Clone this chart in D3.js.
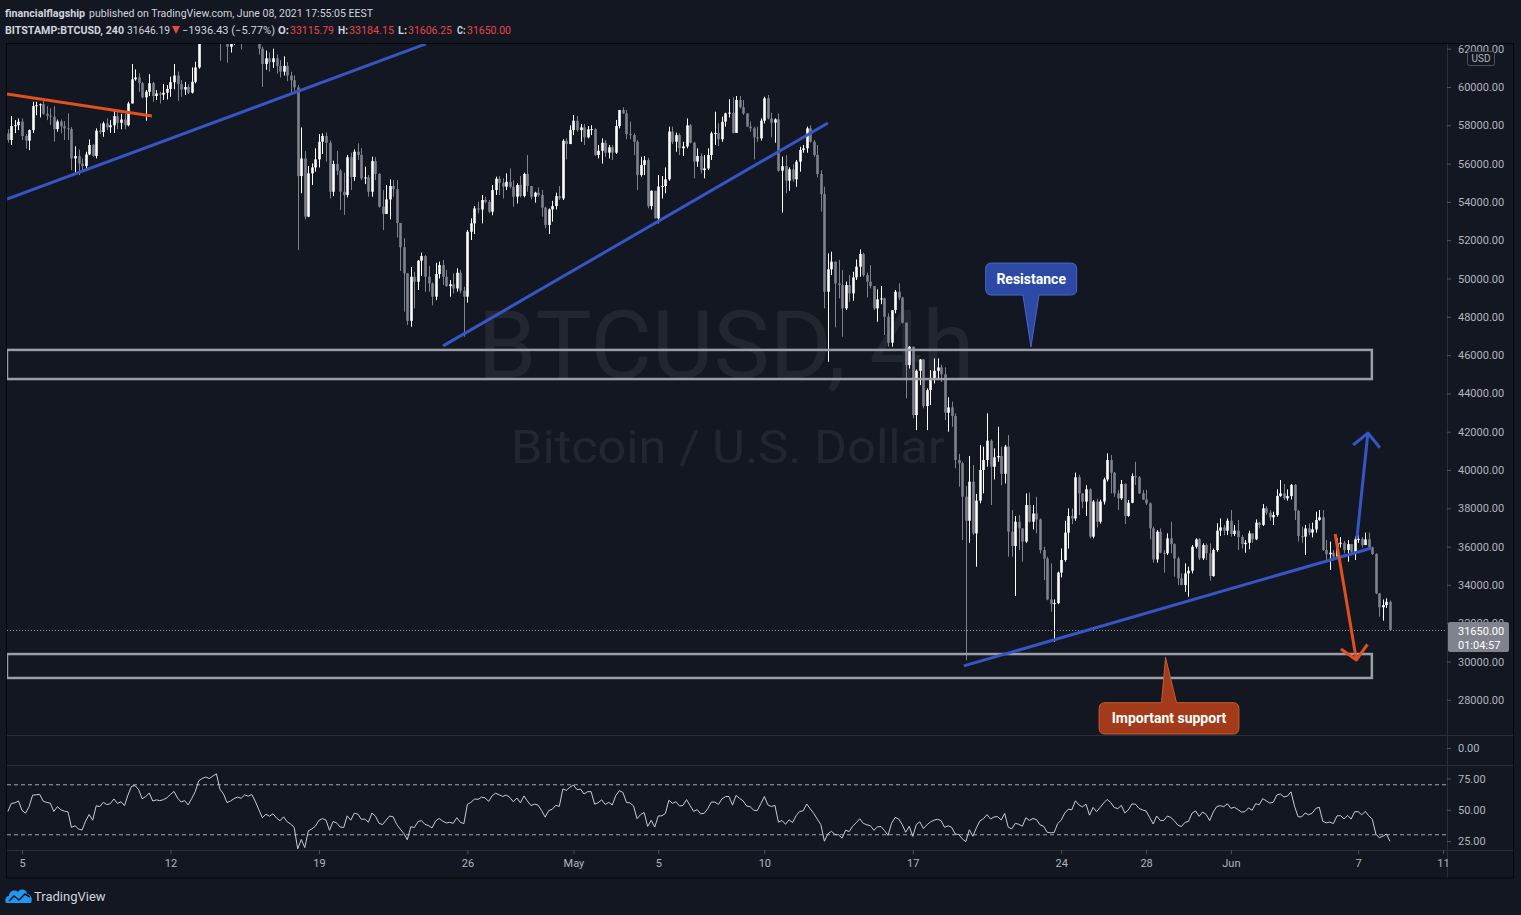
<!DOCTYPE html>
<html><head><meta charset="utf-8">
<script src="https://cdn.jsdelivr.net/npm/d3@7"></script>
<style>
html,body{margin:0;padding:0;background:#131722;overflow:hidden;}
svg{display:block;font-family:Roboto,"Open Sans",sans-serif;}
</style></head><body>
<svg id="c" width="1521" height="915"></svg>
<script>
// ---------------- DATA (prices in thousands of USD, 4h candles from 2021-04-04 08:00 UTC) ----------------
const firstCandle = "2021-04-04T08:00:00Z";
const firstOpen = 57.58;
const closes = [
57.23,57.96,58.0,58.19,57.44,57.2,57.75,59.0,59.05,59.1,
58.6,58.5,58.45,57.8,58.2,57.95,57.84,57.8,56.27,56.39,
56.0,55.87,56.48,56.97,56.4,57.72,57.65,58.1,57.9,58.0,
58.48,58.13,58.3,58.0,59.14,60.4,60.5,60.2,59.46,59.75,
60.2,59.53,59.66,59.6,59.7,59.9,60.25,60.6,60.15,59.87,
60.0,59.7,60.27,61.02,62.7,63.2,63.5,63.4,63.9,64.4,
63.3,62.9,62.1,62.3,62.6,62.8,62.7,63.1,63.0,63.2,
62.7,62.0,61.2,61.5,61.3,61.5,61.1,60.8,61.1,60.6,
60.35,59.98,55.35,56.27,53.23,55.49,55.8,56.22,57.14,57.44,
57.09,54.53,55.98,55.63,54.53,54.36,56.33,55.3,56.62,56.45,
55.23,55.28,54.53,56.13,55.46,53.75,53.37,54.13,54.83,54.66,
52.9,51.63,50.27,47.79,50.09,49.83,50.93,51.17,50.09,49.74,
49.05,50.23,50.7,50.09,49.6,49.7,49.48,50.3,49.36,49.05,
52.44,52.88,53.66,53.6,54.1,54.0,53.49,54.62,55.21,55.0,
54.8,55.05,54.79,54.27,54.88,54.31,55.46,54.83,54.27,54.48,
54.36,53.7,52.79,53.61,53.78,54.3,54.18,57.19,57.02,57.75,
58.24,57.75,57.89,57.37,57.79,57.8,56.45,56.67,57.09,56.57,
56.85,56.57,57.96,58.8,58.62,57.54,57.49,57.14,55.4,55.93,
56.18,53.78,54.58,53.14,54.8,54.83,55.18,57.67,57.14,57.49,
56.8,56.9,58.0,57.09,56.1,56.4,55.66,55.75,56.45,57.58,
57.6,57.27,58.19,58.62,58.66,57.6,59.32,58.94,58.62,57.93,
57.84,57.37,57.32,58.24,59.41,58.36,58.14,58.31,55.63,55.87,
55.11,55.7,55.18,56.1,56.71,56.8,57.84,57.14,56.45,55.46,
54.41,49.31,50.48,50.88,49.74,49.66,48.44,49.66,49.22,50.06,
50.62,51.28,50.18,49.83,49.6,48.44,48.91,48.96,48.0,46.65,
48.35,49.31,49.0,47.69,45.48,46.44,42.87,45.18,45.77,43.34,
44.17,44.78,45.18,45.36,45.0,42.99,43.27,42.82,40.52,40.35,
38.61,37.35,39.39,36.69,38.4,40.0,40.52,41.53,40.17,40.66,
40.73,39.8,41.22,36.78,36.03,37.3,36.95,36.26,38.17,37.3,
37.73,37.42,35.82,35.38,33.24,33.0,33.05,34.64,35.3,36.73,
37.6,37.47,39.62,38.78,38.35,38.99,36.52,38.35,37.3,38.35,
39.51,40.52,39.86,38.78,38.52,39.27,37.6,38.29,39.68,39.62,
38.78,38.46,38.26,36.95,35.33,36.78,35.68,35.65,36.43,36.13,
35.38,34.34,33.99,34.6,34.74,35.99,36.38,35.39,36.08,35.65,
34.46,35.82,36.83,37.0,36.83,37.35,36.66,36.83,36.5,36.13,
36.2,36.69,36.38,37.25,37.13,38.0,37.77,37.53,37.65,38.64,
38.78,38.52,38.64,39.22,37.87,36.55,36.52,36.95,36.73,36.9,
37.39,37.53,35.82,35.6,35.68,35.47,36.17,36.2,35.82,36.13,
35.73,36.38,36.4,36.08,36.38,35.96,35.61,33.56,32.83,32.95,
33.11579,31.65];
const highs = [
57.79,58.48,58.27,58.36,58.36,57.55,57.78,59.23,59.23,59.14,
59.4,59.0,58.88,59.0,58.3,58.3,58.22,58.62,57.9,56.9,
56.74,56.27,56.62,57.26,57.02,57.84,58.1,58.19,58.36,58.27,
58.83,58.71,58.6,58.6,59.23,61.2,60.92,60.71,60.27,59.84,
60.67,60.27,59.84,59.75,60.15,60.1,60.54,61.2,60.8,60.36,
60.27,60.15,61.02,61.32,62.95,63.6,63.8,63.7,64.2,64.85,
64.6,63.6,63.1,62.6,63.0,63.2,63.2,63.4,63.4,63.6,
63.4,62.8,62.1,61.9,61.8,62.0,61.7,61.4,61.6,61.3,
60.8,60.6,60.1,57.89,56.65,55.87,56.01,56.8,57.54,57.58,
57.62,57.2,56.15,56.67,55.7,55.52,56.45,56.57,56.74,57.06,
56.8,55.84,55.4,56.36,56.33,55.5,54.62,54.88,55.18,55.14,
55.14,52.9,52.1,50.27,50.6,50.35,50.97,51.35,51.22,50.65,
49.8,50.82,50.88,50.97,50.44,49.92,50.27,50.53,50.44,49.57,
52.53,53.14,53.78,54.01,54.36,54.27,54.1,54.88,55.32,55.35,
55.23,55.49,55.75,55.14,54.97,55.35,55.53,56.45,54.83,54.53,
54.76,54.62,53.75,53.66,54.06,54.48,54.83,57.27,57.32,58.0,
58.54,58.48,58.07,58.07,57.96,58.0,57.84,56.97,57.32,57.23,
56.97,56.97,58.28,58.8,58.94,58.8,58.19,57.58,57.23,56.36,
56.4,56.3,54.6,54.58,55.4,55.35,55.8,57.93,57.93,57.62,
57.58,57.14,58.36,58.07,57.14,56.8,56.53,56.45,56.8,57.67,
58.71,58.1,58.45,58.66,59.36,59.46,59.53,59.53,59.32,58.62,
58.19,57.93,57.93,58.36,59.49,59.58,58.66,58.36,58.62,56.36,
56.45,55.8,55.97,56.19,56.88,56.97,57.93,58.0,57.23,56.97,
55.66,54.79,51.31,51.4,50.88,50.97,50.44,49.84,50.18,50.35,
50.99,51.52,51.35,50.31,50.7,49.6,49.43,49.61,49.0,48.18,
48.35,49.4,49.75,49.05,47.7,46.47,46.44,45.25,45.8,45.8,
44.26,45.21,45.83,45.83,45.5,45.36,43.8,43.57,42.96,40.84,
40.43,39.16,40.73,40.26,38.75,41.3,41.22,42.96,41.6,41.13,
42.26,41.22,41.31,41.83,37.91,37.6,37.65,36.95,38.78,38.82,
38.17,38.6,37.47,35.99,35.47,35.12,33.24,34.69,35.9,37.35,
38.0,37.99,39.86,39.74,38.78,39.21,39.04,38.43,38.5,38.45,
39.6,40.87,40.78,39.9,38.96,39.48,39.3,38.43,39.82,40.43,
39.68,38.96,38.96,38.3,37.04,36.86,36.95,35.82,36.69,37.3,
36.17,35.47,34.6,35.12,34.95,36.08,36.43,36.45,36.17,36.17,
36.17,35.9,37.22,37.47,37.13,37.47,37.91,37.13,37.39,36.6,
36.34,36.83,36.69,37.42,37.3,38.22,38.12,37.9,37.82,38.99,
39.48,39.27,38.99,39.27,39.27,37.91,37.04,37.13,37.21,37.25,
37.82,37.91,37.91,36.34,36.26,35.82,36.43,36.5,36.3,36.34,
36.13,36.52,36.6,36.5,36.73,36.73,35.99,35.65,33.56,33.24,
33.3,33.18415];
const lows = [
57.09,56.97,57.6,57.75,57.23,56.78,56.7,57.6,58.53,58.41,
58.55,58.27,58.01,57.15,57.66,57.58,57.23,57.23,55.66,55.49,
55.4,55.62,55.62,56.44,56.36,56.27,57.54,57.4,57.75,57.6,
57.6,57.79,57.79,57.79,57.95,59.14,60.33,59.75,59.4,58.24,
59.53,59.23,59.32,59.14,59.32,59.35,59.49,59.88,59.28,59.49,
59.58,59.63,59.66,60.19,60.95,62.3,63.0,62.9,63.2,63.8,
61.37,62.5,61.27,61.8,62.2,62.4,61.96,62.5,62.6,62.8,
62.5,61.7,60.0,60.9,60.8,61.0,60.7,60.5,60.6,60.3,
59.58,59.8,51.49,54.45,53.09,53.2,54.88,55.58,55.8,56.5,
56.1,54.18,54.3,55.4,53.57,53.32,54.24,54.62,55.1,56.19,
55.14,54.93,54.27,54.27,55.14,53.7,52.53,53.36,53.09,54.27,
52.14,50.4,48.27,47.57,47.48,48.44,49.4,50.13,49.31,49.31,
48.6,48.87,50.0,49.66,49.57,49.05,49.22,49.31,49.22,46.96,
48.74,52.01,52.32,53.4,52.88,53.92,53.4,53.3,54.36,54.36,
54.18,54.62,54.71,53.75,53.92,54.24,54.24,54.53,54.14,53.96,
54.27,53.23,52.62,52.32,52.97,53.6,54.1,54.1,56.22,57.02,
57.49,57.67,57.14,56.97,57.32,57.49,56.4,56.27,56.0,56.36,
56.27,56.19,56.5,57.84,58.59,57.27,57.27,56.45,54.62,55.32,
55.4,53.66,53.6,53.14,52.88,54.18,54.45,55.1,57.02,56.62,
56.45,56.4,56.8,57.06,55.23,55.84,55.49,55.23,55.66,56.19,
56.97,56.92,57.14,57.93,58.41,57.58,57.6,58.88,58.54,57.93,
57.67,56.22,57.14,57.2,58.1,58.31,57.37,57.09,55.58,53.44,
54.45,54.58,55.05,54.79,55.58,56.57,56.57,57.09,56.36,55.28,
53.49,48.44,45.65,50.18,47.45,48.96,46.96,48.35,48.79,48.83,
49.92,50.09,50.09,49.01,49.48,48.35,47.74,48.66,47.05,46.44,
46.44,48.18,48.87,47.65,43.74,45.3,42.7,42.08,44.43,43.22,
42.08,43.39,44.52,44.7,44.6,42.6,42.0,42.26,40.09,39.13,
36.34,30.07,36.2,36.6,34.95,38.26,38.78,40.17,38.17,39.51,
40.43,39.2,39.3,35.47,35.47,33.42,35.82,35.21,36.2,37.25,
36.9,36.69,35.65,34.25,33.2,32.6,31.03,32.99,34.39,35.21,
35.9,37.18,37.35,37.65,38.0,37.6,36.43,36.43,37.0,37.2,
38.2,39.4,38.78,38.6,37.91,38.43,37.18,37.56,38.26,39.21,
38.75,38.43,38.17,36.38,35.16,35.16,35.65,34.64,35.56,35.65,
34.43,33.99,33.99,33.64,33.38,34.6,35.9,35.3,35.3,35.3,
34.22,34.43,35.73,36.55,36.6,36.6,36.52,36.55,35.82,35.9,
35.68,35.86,36.2,36.34,36.95,37.07,37.65,37.35,37.13,37.56,
38.6,38.43,38.4,38.46,37.39,36.26,36.2,35.56,36.6,36.48,
36.73,37.35,35.78,35.3,34.78,35.3,35.39,35.95,35.65,35.21,
35.56,35.3,36.2,35.95,36.08,35.96,35.56,33.52,32.34,32.13,
32.8,31.60625];

const priceTicks = [28,30,32,34,36,38,40,42,44,46,48,50,52,54,56,58,60,62];
const rsiTicks = [25,50,75];
const rsiBands = [70,30];
const timeTicks = ["2021-04-05","2021-04-12","2021-04-19","2021-04-26","2021-05-01","2021-05-05","2021-05-10","2021-05-17","2021-05-24","2021-05-28","2021-06-01","2021-06-07","2021-06-11"];
const timeLabels = ["5","12","19","26","May","5","10","17","24","28","Jun","7","11"];

// drawings (time, price in thousands)
const zoneSpan = ["2021-04-04T07:00Z","2021-06-07T15:30Z"];
const resistanceZone = [44.75, 46.27];
const supportZone = [29.14, 30.39];
const orangeTrend = [["2021-04-04T07:00Z",59.63],["2021-04-11T03:00Z",58.49]];
const blueTrends = [
  [["2021-04-04T07:00Z",54.15],["2021-04-24T01:00Z",62.25]],
  [["2021-04-24T20:30Z",46.48],["2021-05-13T00:00Z",58.12]],
  [["2021-05-19T09:45Z",29.77],["2021-06-07T15:30Z",35.93]]
];
const blueArrow = [["2021-06-06T22:30Z",36.40],["2021-06-07T11:00Z",41.93]];
const orangeArrow = [["2021-06-05T22:00Z",36.66],["2021-06-06T22:00Z",30.08]];
const resistanceCallout = {text:"Resistance", at:["2021-05-22T13:45Z",46.42]};
const supportCallout = {text:"Important support", at:["2021-05-28T22:00Z",30.22]};

const publisher = "financialflagship";
const publishedText = "published on TradingView.com, June 08, 2021 17:55:05 EEST";
const symbolText = "BITSTAMP:BTCUSD, 240";
const lastPrice = "31646.19", lastChange = "\u22121936.43 (\u22125.77%)";
const countdown = "01:04:57";

// ---------------- DRAW ----------------
const svg = d3.select("#c");
const BG = "#131722", UP = "#ffffff", DOWN = "#7f828d", AXT = "#b2b5be", SEP = "#2a2e39";
const BLUE = "#3556c4", ORANGE = "#e2501e", ZONE = "#9b9ea6";
const P = {l:7, r:1447, t:44, b:735};
const RP = {t:765, b:850};

const x = d3.scaleUtc().domain([new Date(Date.UTC(2021,3,5)), new Date(Date.UTC(2021,5,11))]).range([22,1443]);
const y = d3.scaleLinear().domain([28,62]).range([699.8,48.7]);
const yr = d3.scaleLinear().domain([25,75]).range([841,778.5]);

const t0 = new Date(firstCandle).getTime();
const data = closes.map((c,i)=>({t:new Date(t0+i*4*3600e3), o: i?closes[i-1]:firstOpen, h:highs[i], l:lows[i], c}));
const last = data[data.length-1];

svg.append("rect").attr("width",1521).attr("height",915).attr("fill",BG);

const defs = svg.append("defs");
defs.append("clipPath").attr("id","main").append("rect").attr("x",P.l).attr("y",P.t).attr("width",P.r-P.l).attr("height",P.b-P.t);
defs.append("clipPath").attr("id","rsi").append("rect").attr("x",P.l).attr("y",RP.t).attr("width",P.r-P.l).attr("height",RP.b-RP.t);
defs.append("clipPath").attr("id","pax").append("rect").attr("x",P.r).attr("y",P.t).attr("width",70).attr("height",P.b-P.t);

// watermark
const wm = svg.append("g").attr("clip-path","url(#main)").attr("fill","rgba(255,255,255,0.065)").attr("text-anchor","middle");
wm.append("text").attr("x",726).attr("y",378).attr("font-size",94).attr("textLength",497).attr("lengthAdjust","spacingAndGlyphs").text("BTCUSD, 4h");
wm.append("text").attr("x",728).attr("y",463).attr("font-size",47).attr("textLength",434).attr("lengthAdjust","spacingAndGlyphs").text("Bitcoin / U.S. Dollar");

// candles
const cg = svg.append("g").attr("clip-path","url(#main)");
const cs = cg.selectAll("g.c").data(data).join("g");
cs.append("line")
  .attr("x1",d=>Math.round(x(d.t))+0.5).attr("x2",d=>Math.round(x(d.t))+0.5)
  .attr("y1",d=>y(Math.max(d.h,d.o,d.c))).attr("y2",d=>y(Math.min(d.l,d.o,d.c)))
  .attr("stroke",d=>d.c>=d.o?UP:DOWN).attr("stroke-width",1);
cs.append("rect")
  .attr("x",d=>Math.round(x(d.t))-0.8).attr("width",2.6)
  .attr("y",d=>y(Math.max(d.o,d.c)))
  .attr("height",d=>Math.max(1,Math.abs(y(d.o)-y(d.c))))
  .attr("fill",d=>d.c>=d.o?UP:DOWN);

// price line
svg.append("line").attr("x1",P.l).attr("x2",P.r).attr("y1",Math.round(y(last.c))+0.5).attr("y2",Math.round(y(last.c))+0.5)
  .attr("stroke","#9598a1").attr("stroke-dasharray","1,2");

// drawings
const dg = svg.append("g").attr("clip-path","url(#main)");
const pt = p => [x(new Date(p[0])), y(p[1])];
[resistanceZone, supportZone].forEach(z=>{
  const x0 = x(new Date(zoneSpan[0])), x1 = x(new Date(zoneSpan[1]));
  dg.append("rect").attr("x",x0).attr("width",x1-x0).attr("y",y(z[1])).attr("height",y(z[0])-y(z[1]))
    .attr("fill","none").attr("stroke",ZONE).attr("stroke-width",2.5);
});
const line = d3.line();
dg.append("path").attr("d",line(orangeTrend.map(pt))).attr("stroke",ORANGE).attr("stroke-width",3).attr("fill","none");
blueTrends.forEach(tl=>dg.append("path").attr("d",line(tl.map(pt))).attr("stroke",BLUE).attr("stroke-width",3).attr("fill","none"));
function arrow(a,color){
  const [s,e] = a.map(pt);
  const ang = Math.atan2(s[1]-e[1], s[0]-e[0]);
  const L = 19, sp = Math.PI/4;
  const b1 = [e[0]+L*Math.cos(ang+sp), e[1]+L*Math.sin(ang+sp)];
  const b2 = [e[0]+L*Math.cos(ang-sp), e[1]+L*Math.sin(ang-sp)];
  dg.append("path").attr("d",line([s,e])).attr("stroke",color).attr("stroke-width",3).attr("fill","none");
  dg.append("path").attr("d",line([b1,e,b2])).attr("stroke",color).attr("stroke-width",3).attr("fill","none").attr("stroke-linejoin","round");
}
arrow(blueArrow, BLUE);
arrow(orangeArrow, ORANGE);

function callout(c, box, base, fill, stroke){
  const [ax, ay] = pt(c.at);
  const x0=ax+box[0], x1=ax+box[1], y0=ay+box[2], y1=ay+box[3], r=6;
  const below = ay > y1;
  let d;
  if (below) {
    d = `M${x0+r},${y0} H${x1-r} Q${x1},${y0} ${x1},${y0+r} V${y1-r} Q${x1},${y1} ${x1-r},${y1} H${ax+base[1]} L${ax},${ay} L${ax+base[0]},${y1} H${x0+r} Q${x0},${y1} ${x0},${y1-r} V${y0+r} Q${x0},${y0} ${x0+r},${y0} Z`;
  } else {
    d = `M${x0+r},${y0} H${ax+base[0]} L${ax},${ay} L${ax+base[1]},${y0} H${x1-r} Q${x1},${y0} ${x1},${y0+r} V${y1-r} Q${x1},${y1} ${x1-r},${y1} H${x0+r} Q${x0},${y1} ${x0},${y1-r} V${y0+r} Q${x0},${y0} ${x0+r},${y0} Z`;
  }
  dg.append("path").attr("d",d).attr("fill",fill).attr("stroke",stroke).attr("stroke-width",1);
  dg.append("text").attr("x",(x0+x1)/2).attr("y",(y0+y1)/2+5).attr("text-anchor","middle")
    .attr("fill","#ffffff").attr("font-weight",700).attr("font-size",14).text(c.text);
}
callout(resistanceCallout, [-45.3,45.7,-84,-52], [-8,8], "#2c4aa5", "#4966c4");
callout(supportCallout, [-66.4,73.4,45.4,76.7], [-4,11], "#a33a1a", "#c65c36");

// RSI (14) computed from closes, Wilder smoothing seeded with SMA of first 14 changes
const N = 14;
const diffs = data.map(d=>d.c-d.o);
let ag = d3.mean(diffs.slice(0,N),d=>Math.max(d,0)), al = d3.mean(diffs.slice(0,N),d=>Math.max(-d,0));
const rsi = diffs.map((d,i)=>{ ag=(ag*(N-1)+Math.max(d,0))/N; al=(al*(N-1)+Math.max(-d,0))/N; return {t:data[i].t, v: al===0?100:100-100/(1+ag/al)}; });
const rg = svg.append("g").attr("clip-path","url(#rsi)");
rsiBands.forEach(b=>rg.append("line").attr("x1",P.l).attr("x2",P.r).attr("y1",yr(b)).attr("y2",yr(b))
  .attr("stroke","#a3a6af").attr("stroke-dasharray","4,3").attr("stroke-width",1));
rg.append("path").datum(rsi).attr("d",d3.line().x(d=>x(d.t)).y(d=>yr(d.v)))
  .attr("fill","none").attr("stroke","#c9cbd3").attr("stroke-width",1);

// separators & frame
const sep = svg.append("g").attr("stroke",SEP).attr("stroke-width",1);
sep.append("line").attr("x1",P.l).attr("x2",1514).attr("y1",735.5).attr("y2",735.5);
sep.append("line").attr("x1",P.l).attr("x2",1514).attr("y1",765.5).attr("y2",765.5);
sep.append("line").attr("x1",P.l).attr("x2",1514).attr("y1",850.5).attr("y2",850.5);
sep.append("line").attr("x1",P.r+0.5).attr("x2",P.r+0.5).attr("y1",P.t).attr("y2",878);
svg.append("rect").attr("x",6.5).attr("y",43.5).attr("width",1507).attr("height",834.5).attr("fill","none").attr("stroke","#05060a").attr("stroke-width",1);

// axes
function styleAxis(g){
  g.select(".domain").remove();
  g.selectAll(".tick line").attr("stroke","#50535e");
  g.selectAll(".tick text").attr("fill",AXT).attr("font-size",11).attr("font-family","Roboto,sans-serif");
}
svg.append("g").attr("clip-path","url(#pax)")
  .append("g").attr("transform",`translate(${P.r},0)`)
  .call(d3.axisRight(y).tickValues(priceTicks).tickSize(4).tickPadding(7).tickFormat(d=>(d*1000).toFixed(2))).call(styleAxis);
svg.append("g").attr("transform",`translate(${P.r},0)`)
  .call(d3.axisRight(yr).tickValues(rsiTicks).tickSize(4).tickPadding(7).tickFormat(d=>d.toFixed(2))).call(styleAxis);
svg.append("line").attr("x1",P.r).attr("x2",P.r+4).attr("y1",748.5).attr("y2",748.5).attr("stroke","#50535e");
svg.append("text").attr("x",P.r+11).attr("y",752).attr("fill",AXT).attr("font-size",11).text((0).toFixed(2));
// USD badge
svg.append("rect").attr("x",1467.5).attr("y",51.5).attr("width",27).attr("height",14).attr("rx",2).attr("fill",BG).attr("stroke","#4c525e");
svg.append("text").attr("x",1481).attr("y",62).attr("text-anchor","middle").attr("fill",AXT).attr("font-size",10).text("USD");
// last price badge
svg.append("rect").attr("x",1448).attr("y",622).attr("width",61).attr("height",30).attr("rx",2).attr("fill","#80838d");
const lb = svg.append("text").attr("fill","#ffffff").attr("font-size",11);
lb.append("tspan").attr("x",1458).attr("y",635).text((last.c*1000).toFixed(2));
lb.append("tspan").attr("x",1458).attr("y",648.5).text(countdown);

// time axis
const tg = svg.append("g").attr("transform","translate(0,850)")
  .call(d3.axisBottom(x).tickValues(timeTicks.map(s=>new Date(s+"T00:00:00Z"))).tickSize(4).tickPadding(5).tickFormat((d,i)=>timeLabels[i]));
styleAxis(tg);

// header
const RED = "#e5474d", HC = "#d1d4dc";
const fmt = v=>(v*1000).toFixed(2);
function headerLine(yy, pieces){
  const t = svg.append("text").attr("y",yy);
  pieces.forEach(([s,w,c,x0,len,fs])=>t.append("tspan").attr("x",x0).attr("y",yy).attr("font-weight",w).attr("fill",c)
    .attr("font-size",fs).attr("textLength",len).attr("lengthAdjust","spacingAndGlyphs").text(s));
}
headerLine(17, [[publisher,700,HC,5,80,11],[publishedText,400,HC,89,284,11.5]]);
headerLine(34, [
  [symbolText,700,HC,5,119,10.5],
  [lastPrice,400,HC,127,43,11],
  [lastChange,400,HC,182,93,11],
  ["O:",700,HC,278,11,11],[fmt(last.o),400,RED,290,44,11],
  ["H:",700,HC,338,10,11],[fmt(last.h),400,RED,349,45,11],
  ["L:",700,HC,398,9,11],[fmt(last.l),400,RED,408,44,11],
  ["C:",700,HC,457,8.5,11],[fmt(last.c),400,RED,467,44,11]
]);
svg.append("path").attr("d","M172,26 L180,26 L176,34 Z").attr("fill",RED);

// footer logo
svg.append("path").attr("fill","#2196f3")
  .attr("d","M7,903 C4,903 5,896 9,896 C9,891 15,889 18,892 C20,888 27,889 27,894 C31,894 33,899 31,903 Z");
svg.append("path").attr("d","M9,901 L14,896 L19,900 L25,894 L30,897").attr("fill","none").attr("stroke",BG).attr("stroke-width",1.6);
svg.append("text").attr("x",34).attr("y",901).attr("fill","#d1d4dc").attr("font-size",13).text("TradingView");
</script>
</body></html>
